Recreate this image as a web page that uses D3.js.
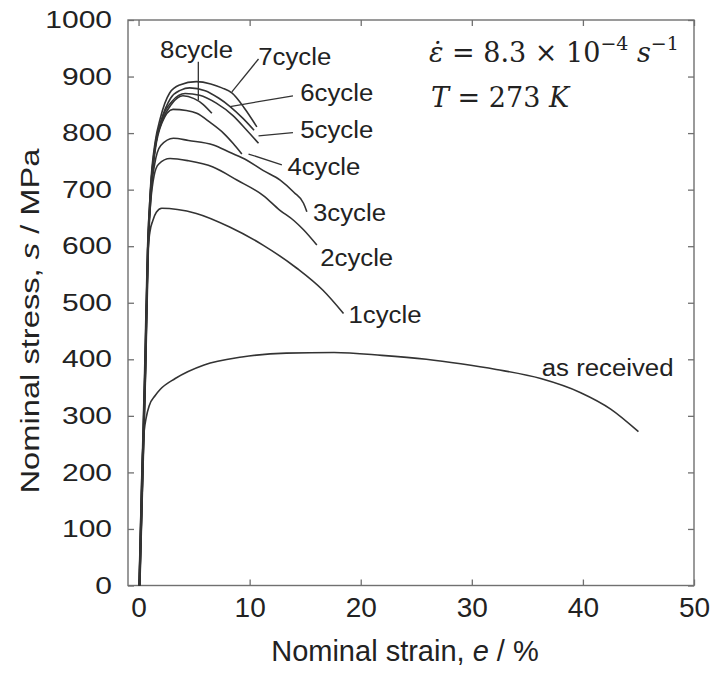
<!DOCTYPE html>
<html>
<head>
<meta charset="utf-8">
<script src="https://cdn.jsdelivr.net/npm/d3@7"></script>
<style>
  body { margin: 0; background: #fff; }
  svg text { font-family: "Liberation Sans", Arial, sans-serif; fill: #222; }
</style>
</head>
<body>
<div id="chart"></div>
<script>
// Tick values
const strainTicks = [0, 10, 20, 30, 40, 50];
const stressTicks = [0, 100, 200, 300, 400, 500, 600, 700, 800, 900, 1000];

// Curves: [nominal strain %, nominal stress MPa]
const asReceived = [[0.07,0],[0.35,230],[0.5,272],[0.7,298],[0.96,318],[1.5,336],[1.96,347],[3.3,366],[5.9,390],[9.3,404],[13.3,411],[17.6,412],[21.9,407],[25.9,400],[29,392],[32.2,382],[36.2,366],[39.8,341],[42.5,312],[45.0,272]];
const cycle1 = [[0.1,0],[0.63,381],[0.86,593],[1.02,625],[1.28,645],[1.6,660],[2.09,667],[3.5,665],[5.2,658],[8.2,634],[11.2,602],[14.25,561],[16.6,522],[18.45,481]];
const cycle2 = [[0.05,0],[0.57,381],[0.82,593],[1.1,680],[1.4,725],[1.8,745],[2.84,755],[4.5,751],[6.7,740],[8.85,717],[11.2,690],[12.7,664],[14.0,645],[14.85,629],[16.05,602]];
const cycle3 = [[0.12,0],[0.64,381],[0.88,593],[1.12,690],[1.45,745],[2.0,778],[3.14,791],[4.5,787],[6.74,779],[8.2,766],[9.75,752],[11.2,734],[12.75,717],[14.0,695],[14.85,676],[15.15,661]];
const cycle4 = [[0.08,0],[0.6,381],[0.84,593],[1.1,695],[1.5,770],[2.1,818],[3.1,842],[4.3,840],[5.24,835],[6.5,818],[7.64,800],[8.5,782],[9.3,763]];
const cycle5 = [[0.04,0],[0.55,381],[0.8,593],[1.08,700],[1.5,775],[2.1,825],[3.0,856],[4.2,870],[5.5,867],[7.0,853],[8.5,831],[9.7,806],[10.8,782]];
const cycle6 = [[0.1,0],[0.61,381],[0.85,593],[1.1,702],[1.5,780],[2.0,820],[2.9,862],[3.8,876],[4.6,880],[6.0,875],[7.2,862],[8.24,847],[9.4,826],[10.4,805]];
const cycle7 = [[0.06,0],[0.58,381],[0.82,593],[1.08,705],[1.5,785],[1.94,825],[2.8,871],[3.7,885],[5.2,891],[6.5,887],[7.5,880],[8.4,871],[9.5,845],[10.65,811]];
const cycle8 = [[0.11,0],[0.62,381],[0.86,593],[1.12,700],[1.5,775],[2.1,820],[3.0,852],[4.0,866],[5.0,861],[5.8,851],[6.6,835]];

const curves = [asReceived, cycle1, cycle2, cycle3, cycle4, cycle5, cycle6, cycle7, cycle8];

// Curve labels: text, [strain, stress] of label start / baseline
const labelNames = ["8cycle", "7cycle", "6cycle", "5cycle", "4cycle", "3cycle", "2cycle", "1cycle", "as received"];
const labelAt = [[1.94,933],[10.77,920],[14.55,857],[14.55,791],[13.4,726],[15.7,645],[16.35,565],[18.9,464],[36.3,370]];

// Leader lines from labels to curves
const leaders = [
  [[5.38,926],[5.38,858]],
  [[10.8,931],[8.4,873]],
  [[13.9,866],[8.24,847]],
  [[13.9,801],[10.8,795]],
  [[12.9,744],[9.9,763]]
];

const config = {
  width     : 713,
  height    : 675,
  left      : 128,
  right     : 694,
  top       : 20,
  bottom    : 585.5,
  ink       : "#333",
  frame     : "#707070"
};

const svg = d3.select("#chart")
  .append("svg")
    .attr("width", config.width)
    .attr("height", config.height);

const x = d3.scaleLinear().domain([-0.95, 50]).range([config.left, config.right]);
const y = d3.scaleLinear().domain([0, 1000]).range([config.bottom, config.top]);

// widen glyphs a little, the source font is broader than Arial
const stretch = function(k) {
  return function() { d3.select(this).attr("textLength", this.getComputedTextLength() * k).attr("lengthAdjust", "spacingAndGlyphs"); };
};

// axes with inward ticks on all four sides
const bottomAxis = svg.append("g")
  .attr("transform", "translate(0," + config.bottom + ")")
  .call(d3.axisBottom(x).tickValues(strainTicks).tickSizeInner(-6).tickSizeOuter(0).tickPadding(12).tickFormat(d3.format("d")));
bottomAxis.selectAll("text").style("font-size", "28px");

const leftAxis = svg.append("g")
  .attr("transform", "translate(" + config.left + ",0)")
  .call(d3.axisLeft(y).tickValues(stressTicks).tickSizeInner(-6).tickSizeOuter(0).tickPadding(16).tickFormat(d3.format("d")));
leftAxis.selectAll("text").style("font-size", "24px").each(stretch(1.25));

svg.append("g")
  .attr("transform", "translate(0," + config.top + ")")
  .call(d3.axisTop(x).tickValues(strainTicks).tickSizeInner(-6).tickSizeOuter(0).tickFormat(""));
svg.append("g")
  .attr("transform", "translate(" + config.right + ",0)")
  .call(d3.axisRight(y).tickValues(stressTicks).tickSizeInner(-6).tickSizeOuter(0).tickFormat(""));

svg.selectAll(".domain").remove();
svg.selectAll(".tick line").attr("stroke", config.frame).attr("stroke-width", 1.3);
svg.selectAll(".tick text").attr("fill", "#222");

svg.append("rect")
  .attr("x", config.left).attr("y", config.top)
  .attr("width", config.right - config.left)
  .attr("height", config.bottom - config.top)
  .attr("fill", "none")
  .attr("stroke", config.frame)
  .attr("stroke-width", 1.4);

// curves
const line = d3.line()
  .x(d => x(d[0]))
  .y(d => y(d[1]))
  .curve(d3.curveMonotoneX);

svg.append("g").selectAll("path")
  .data(curves)
  .enter()
  .append("path")
    .attr("d", line)
    .attr("fill", "none")
    .attr("stroke", config.ink)
    .attr("stroke-width", 1.6)
    .attr("stroke-linejoin", "round");

// leader lines
svg.append("g").selectAll("line")
  .data(leaders)
  .enter()
  .append("line")
    .attr("x1", d => x(d[0][0])).attr("y1", d => y(d[0][1]))
    .attr("x2", d => x(d[1][0])).attr("y2", d => y(d[1][1]))
    .attr("stroke", config.ink)
    .attr("stroke-width", 1.3);

// curve labels
svg.append("g").selectAll("text")
  .data(labelNames)
  .enter()
  .append("text")
    .attr("x", (d, i) => x(labelAt[i][0]))
    .attr("y", (d, i) => y(labelAt[i][1]))
    .style("font-size", "23px")
    .text(d => d)
    .each(stretch(1.12));

// axis titles
const xTitle = svg.append("text")
  .attr("x", 405)
  .attr("y", 661)
  .attr("text-anchor", "middle")
  .style("font-size", "29px");
xTitle.append("tspan").text("Nominal strain, ");
xTitle.append("tspan").style("font-style", "italic").text("e");
xTitle.append("tspan").text(" / %");

const yTitle = svg.append("text")
  .attr("transform", "translate(39,321) rotate(-90)")
  .attr("text-anchor", "middle")
  .style("font-size", "26px");
yTitle.append("tspan").text("Nominal stress, ");
yTitle.append("tspan").style("font-style", "italic").text("s");
yTitle.append("tspan").text(" / MPa");
yTitle.each(function() { d3.select(this).attr("textLength", 345).attr("lengthAdjust", "spacingAndGlyphs"); });

// test conditions
const serif = "'DejaVu Serif', 'Liberation Serif', serif";
const eq1 = svg.append("text")
  .attr("x", 429).attr("y", 62)
  .style("font-family", serif)
  .style("font-size", "27px");
eq1.append("tspan").style("font-style", "italic").text("\u03B5\u0307");
eq1.append("tspan").text(" = 8.3 \u00D7 10");
eq1.append("tspan").attr("dy", -12).style("font-size", "19px").text("\u22124");
eq1.append("tspan").attr("dy", 12).text(" ");
eq1.append("tspan").style("font-style", "italic").text("s");
eq1.append("tspan").attr("dy", -12).style("font-size", "19px").text("\u22121");

const eq2 = svg.append("text")
  .attr("x", 431).attr("y", 107)
  .style("font-family", serif)
  .style("font-size", "27px");
eq2.append("tspan").style("font-style", "italic").text("T");
eq2.append("tspan").text(" = 273 ");
eq2.append("tspan").style("font-style", "italic").text("K");
</script>
</body>
</html>
